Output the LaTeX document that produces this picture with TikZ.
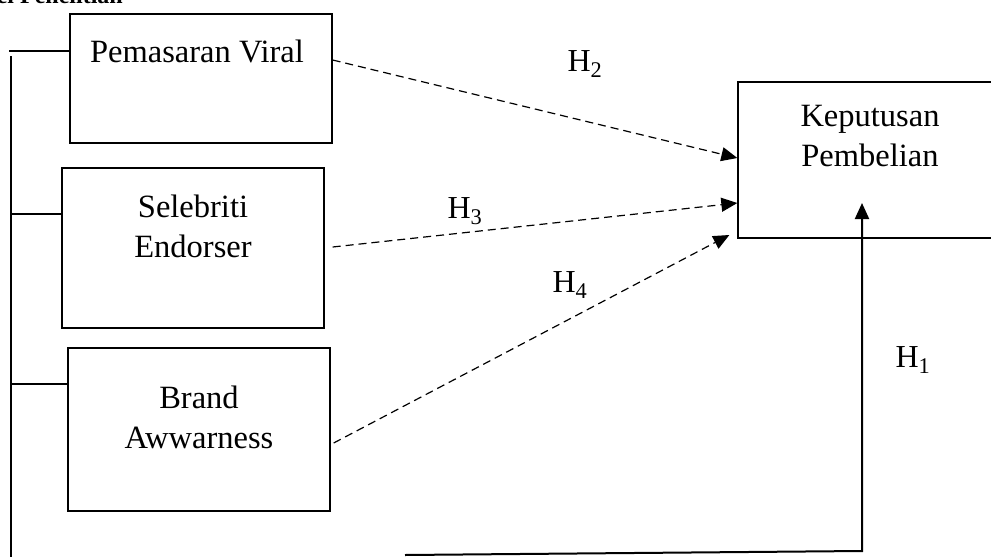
\documentclass[tikz,border=0pt]{standalone}
\usepackage{fontspec}
\setmainfont{Liberation Serif}
\usetikzlibrary{arrows.meta}
\begin{document}
\begin{tikzpicture}[x=1pt,y=-1pt,
  box/.style={draw,line width=1.3pt,minimum width=262pt,inner sep=0pt},
  txt/.style={font=\fontsize{32.5}{40}\selectfont,inner sep=0pt,align=center},
  hyp/.style={font=\fontsize{32}{40}\selectfont,inner sep=0pt},
  ttl/.style={font=\fontsize{24}{28}\selectfont\bfseries,inner sep=0pt},
  link/.style={line width=1.3pt},
  dasharrow/.style={line width=1.2pt,dash pattern=on 8pt off 5pt,-{Triangle[length=16pt,width=14pt]}},
  solidarrow/.style={line width=2pt,-{Triangle[length=16pt,width=14pt]}}]
\useasboundingbox (0,0) rectangle (991,557);
% cropped title
\node[ttl,anchor=base east] (title) at (123,3) {Model Penelitian};
% boxes
\node[box,minimum height=129pt] (pv) at (201,78.5) {};
\node[box,minimum height=160pt] (se) at (193,248) {};
\node[box,minimum height=163pt] (br) at (199,429.5) {};
\node[box,minimum height=156pt] (kp) at (869,160) {};
% texts
\node[txt] (tpv) at (197,51) {Pemasaran Viral};
\node[txt] (tse) at (193,226) {Selebriti\\Endorser};
\node[txt] (tbr) at (199,417) {Brand\\Awwarness};
\node[txt] (tkp) at (870,136) {Keputusan\\Pembelian};
% left bracket
\coordinate (vtop) at (11,56);
\coordinate (vbot) at (11,560);
\coordinate (s1) at (9,51);
\coordinate (s2) at (11,214);
\coordinate (s3) at (12,384);
\draw[link] (vtop) -- (vbot);
\draw[link] (s1) -- (s1 -| pv.west);
\draw[link] (s2) -- (s2 -| se.west);
\draw[link] (s3) -- (s3 -| br.west);
% bottom path to Keputusan
\coordinate (b1) at (405,555);
\coordinate (b2) at (862,551);
\coordinate (h1tip) at (862,203);
\draw[solidarrow] (b1) -- (b2) -- (h1tip);
% dashed arrows
\draw[dasharrow] ([yshift=18.5pt]pv.east) -- ([yshift=2pt]kp.west);
\draw[dasharrow] ([xshift=8pt,yshift=1pt]se.east) -- ([yshift=-43pt]kp.west);
\draw[dasharrow] ([xshift=3pt,yshift=-13.5pt]br.east) -- ([xshift=-8pt,yshift=-75pt]kp.west);
% hypothesis labels
\node[hyp] (h2) at (585,64) {H\textsubscript{2}};
\node[hyp] (h3) at (465,211) {H\textsubscript{3}};
\node[hyp] (h4) at (570,285) {H\textsubscript{4}};
\node[hyp] (h1) at (913,360) {H\textsubscript{1}};
\end{tikzpicture}
\end{document}
